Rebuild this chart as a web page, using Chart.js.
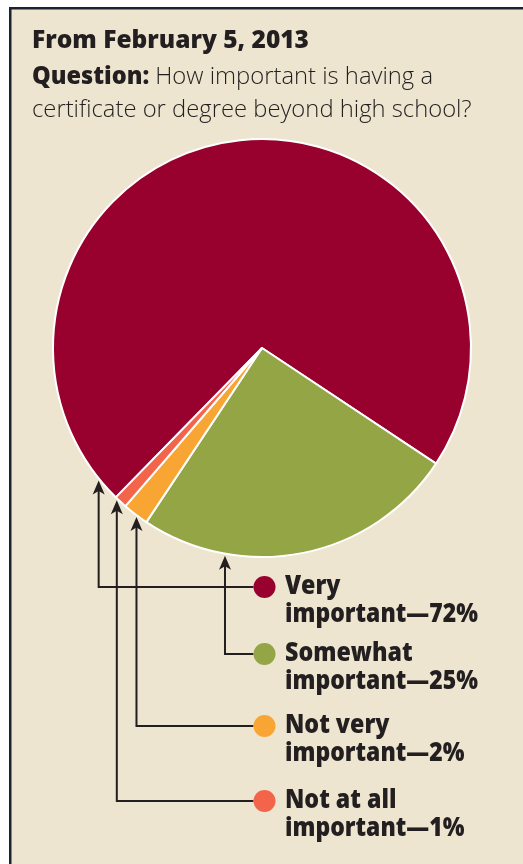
<!DOCTYPE html>
<html>
<head>
<meta charset="utf-8">
<script src="https://cdn.jsdelivr.net/npm/chart.js@4.4.1/dist/chart.umd.min.js"></script>
<style>
  html, body { margin: 0; padding: 0; background: #ffffff; }
  #wrap { width: 523px; height: 864px; position: relative; }
  canvas { display: block; }
</style>
</head>
<body>
<div id="wrap"><canvas id="poll" width="523" height="864"></canvas></div>
<script>
// Poll answers and their shares (percent)
const categories = ['Very important', 'Somewhat important', 'Not very important', 'Not at all important'];
const shares = [72, 25, 2, 1];
const sliceColors = ['#98002e', '#94a545', '#f9a533', '#f2654b'];

const headline = 'From February 5, 2013';
const questionLead = 'Question:';
const questionText = ['How important is having a', 'certificate or degree beyond high school?'];

// Layout of the callouts: where along each slice the arrow points (fraction of the arc)
// and the vertical centre of each legend row.
const pointerFraction = [0.027, 0.74, 0.46, 0.89];
const rowCenters = [587, 654, 726, 801];

const INK = '#231f20';
const PAPER = '#ede5cf';
const FACE = '"Open Sans", Lato, sans-serif';

function legendLabel(i) {
  const first = categories[i].replace(/\s*important$/, '');
  const second = 'important\u2014' + shares[i] + '%';
  return [first, second];
}

// narrow a line of text horizontally so heavy type keeps a compact width
function condensedText(ctx, text, x, y, squeeze) {
  ctx.save();
  ctx.translate(x, y);
  ctx.scale(squeeze, 1);
  ctx.fillText(text, 0, 0);
  ctx.restore();
}

const framePlugin = {
  id: 'frame',
  beforeDraw(chart) {
    const ctx = chart.ctx;
    const w = chart.width, h = chart.height;
    ctx.save();
    ctx.fillStyle = '#ffffff';
    ctx.fillRect(0, 0, w, h);
    ctx.fillStyle = PAPER;
    ctx.fillRect(9, 7, w - 9, h - 7);
    ctx.fillStyle = '#1d2230';
    ctx.fillRect(9, 7, w - 9, 2.5);
    ctx.fillRect(9, 7, 2.5, h - 7);
    ctx.restore();
  }
};

const calloutPlugin = {
  id: 'callouts',
  afterDatasetsDraw(chart) {
    const ctx = chart.ctx;
    const arcs = chart.getDatasetMeta(0).data;
    const dotX = 264.5, dotR = 11;
    const textX = 285;

    ctx.save();
    // headline and question
    ctx.fillStyle = INK;
    ctx.textBaseline = 'alphabetic';
    ctx.textAlign = 'left';
    ctx.font = '800 24.5px ' + FACE;
    ctx.fillText(headline, 32, 48);
    ctx.font = '800 24px ' + FACE;
    condensedText(ctx, questionLead, 32, 84, 0.98);
    const leadW = ctx.measureText(questionLead).width * 0.98 + 6;
    ctx.font = '300 23.8px ' + FACE;
    ctx.fillText(questionText[0], 32 + leadW, 84);
    ctx.fillText(questionText[1], 32, 117);

    arcs.forEach((arc, i) => {
      const p = arc.getProps(['x', 'y', 'startAngle', 'endAngle', 'outerRadius'], true);
      const a = p.startAngle + pointerFraction[i] * (p.endAngle - p.startAngle);
      const px = p.x + p.outerRadius * Math.cos(a);
      const tipY = p.y + p.outerRadius * Math.sin(a) + 2;
      const rowY = rowCenters[i];

      // leader line
      ctx.strokeStyle = INK;
      ctx.lineWidth = 2;
      ctx.beginPath();
      ctx.moveTo(px, tipY + 9);
      ctx.lineTo(px, rowY);
      ctx.lineTo(dotX - dotR, rowY);
      ctx.stroke();

      // arrowhead
      ctx.fillStyle = INK;
      ctx.beginPath();
      ctx.moveTo(px, tipY);
      ctx.lineTo(px - 6, tipY + 14);
      ctx.lineTo(px, tipY + 10.5);
      ctx.lineTo(px + 6, tipY + 14);
      ctx.closePath();
      ctx.fill();

      // legend swatch
      ctx.fillStyle = sliceColors[i];
      ctx.beginPath();
      ctx.arc(dotX, rowY, dotR, 0, Math.PI * 2);
      ctx.fill();

      // legend text
      const [l1, l2] = legendLabel(i);
      ctx.fillStyle = INK;
      ctx.font = '800 27px ' + FACE;
      condensedText(ctx, l1, textX, rowY + 7, 0.86);
      condensedText(ctx, l2, textX, rowY + 35, 0.85);
    });
    ctx.restore();
  }
};

new Chart(document.getElementById('poll'), {
  type: 'pie',
  data: {
    labels: categories,
    datasets: [{
      data: shares,
      backgroundColor: sliceColors,
      borderColor: '#ffffff',
      borderWidth: 2
    }]
  },
  options: {
    responsive: false,
    animation: false,
    events: [],
    rotation: 224.4,
    radius: 209,
    layout: { padding: { left: 40, right: 39, top: 130, bottom: 298 } },
    plugins: {
      legend: { display: false },
      tooltip: { enabled: false },
      title: { display: false }
    }
  },
  plugins: [framePlugin, calloutPlugin]
});
</script>
</body>
</html>
